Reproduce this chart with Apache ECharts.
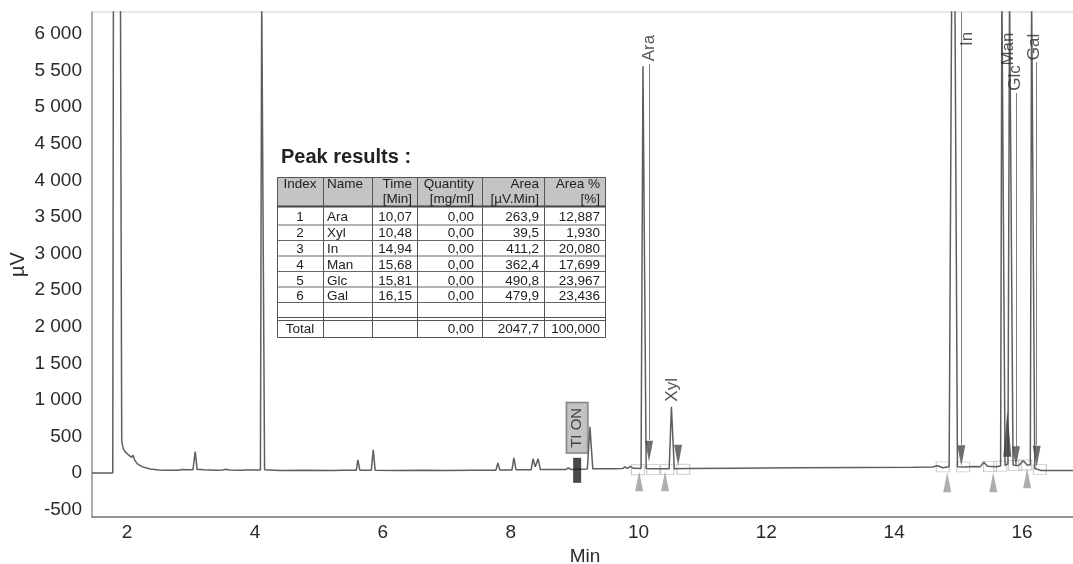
<!DOCTYPE html>
<html><head><meta charset="utf-8">
<script src="https://cdn.jsdelivr.net/npm/echarts@6/dist/echarts.min.js"></script>
<style>html,body{margin:0;padding:0;background:#fff}#c{width:1073px;height:564px}</style>
</head><body><div id="c"></div>
<script>
// ---------- data ----------
// trace: [time (min), signal (µV)]
const trace = [
 [1.45,0],[1.775,0],[1.785,6600],[1.895,6600],[1.915,430],[1.94,330],[1.97,290],[2.02,250],[2.07,215],[2.095,245],
 [2.115,180],[2.16,125],[2.24,85],[2.36,55],[2.5,42],[2.6,40],[2.63,52],[2.67,40],[2.8,38],[2.87,50],[2.95,44],
 [3.03,46],[3.065,295],[3.095,48],[3.15,50],[3.17,72],[3.2,45],[3.4,40],[3.5,42],[3.54,52],[3.6,42],[3.78,40],
 [3.8,52],[3.84,42],[4.085,42],[4.105,6600],[4.13,6600],[4.15,45],[4.4,36],[4.8,38],[5.2,36],[5.4,40],[5.585,38],
 [5.61,181],[5.64,40],[5.82,40],[5.85,318],[5.88,40],[6.2,36],[6.6,38],[7.0,36],[7.4,38],[7.77,40],[7.80,140],
 [7.83,42],[8.02,42],[8.05,208],[8.085,45],[8.32,45],[8.35,195],[8.385,85],[8.43,195],[8.465,48],[8.86,48],
 [8.9,72],[8.94,50],[9.2,55],[9.24,632],[9.285,58],[9.6,58],[9.75,62],[9.79,85],[9.83,62],[9.87,92],[9.92,65],
 [10.04,62],[10.07,5560],[10.12,62],[10.2,58],[10.48,58],[10.515,905],[10.56,58],[10.8,62],[11.5,66],[12.5,72],
 [13.5,76],[14.3,80],[14.6,84],[14.68,100],[14.76,72],[14.86,86],[14.9,6600],[14.95,6600],[14.99,88],[15.1,82],
 [15.25,90],[15.35,88],[15.4,150],[15.46,92],[15.6,88],[15.665,96],[15.685,6600],[15.71,6600],[15.735,105],
 [15.78,125],[15.805,6600],[15.835,6600],[15.86,112],[15.95,102],[16.02,170],[16.08,112],[16.13,112],
 [16.15,6600],[16.175,6600],[16.2,62],[16.3,36],[16.9,34]
];
// peak name labels: [name, time, µV]
const peakLabels = [['Ara',10.165,5808],['Xyl',10.525,1137],['In',15.14,5931],['Man',15.78,5794],['Glc',15.89,5398],['Gal',16.20,5821]];
// integration markers
const peakEndArrows = [[10.165,297],[10.62,243],[15.05,236],[15.905,222],[16.23,229]];
const peakApexMark = [[15.77,536]];
const peakStartMarks = [[10.01,-112],[10.415,-112],[14.83,-126],[15.55,-126],[16.08,-71]];
const baselineBoxes = [[9.99,45],[10.23,48],[10.45,48],[10.70,52],[14.76,85],[15.08,85],[15.50,88],[15.66,95],[15.89,105],[16.05,110],[16.28,50]];
const markerStems = [[10.165,454,5590],[15.05,386,6300],[15.905,359,5193],[16.23,386,5617]];
const timedEvent = [['TI ON',9.04,618]];
const eventBar = [[9.04,38]];
// axis ticks
const yTickStep = 500;
const xTickStep = 2;
// table
const tableHead1 = ['Index','Name','Time','Quantity','Area','Area %'];
const tableHead2 = ['','','[Min]','[mg/ml]','[µV.Min]','[%]'];
const tableRows = [
 ['1','Ara','10,07','0,00','263,9','12,887'],
 ['2','Xyl','10,48','0,00','39,5','1,930'],
 ['3','In','14,94','0,00','411,2','20,080'],
 ['4','Man','15,68','0,00','362,4','17,699'],
 ['5','Glc','15,81','0,00','490,8','23,967'],
 ['6','Gal','16,15','0,00','479,9','23,436'],
 ['','','','','','']
];
const tableTotal = ['Total','','','0,00','2047,7','100,000'];
const tableTitle = 'Peak results :';

// ---------- layout ----------
const FONT = '"Liberation Sans", Arial, sans-serif';
const colX = [277, 323, 372, 417, 482, 544, 605];
const colAlign = ['center','left','right','right','right','right'];
const rowLines = [225, 240.5, 256, 271.5, 287, 302.5];
const rowCenters = [217, 233, 249, 265, 281, 296, 310];
const G = [];
const tTop = 177, tBot = 337, hBot = 206;
G.push({type:'text', x:281, y:157, z:100, style:{text:tableTitle, font:'bold 20px '+FONT, fill:'#222', textAlign:'left', textVerticalAlign:'middle'}});
G.push({type:'rect', z:90, shape:{x:colX[0]+0.5,y:tTop+0.5,width:colX[6]-colX[0],height:tBot-tTop}, style:{fill:'#fff', stroke:'#555', lineWidth:1}});
G.push({type:'rect', z:91, shape:{x:colX[0]+0.5,y:tTop+0.5,width:colX[6]-colX[0],height:hBot-tTop}, style:{fill:'#c4c4c4', stroke:'#555', lineWidth:1}});
G.push({type:'line', z:92, shape:{x1:colX[0],y1:hBot+0.5,x2:colX[6],y2:hBot+0.5}, style:{stroke:'#444', lineWidth:2}});
for (let i=1;i<colX.length-1;i++) G.push({type:'line', z:92, shape:{x1:colX[i]+0.5,y1:tTop,x2:colX[i]+0.5,y2:tBot}, style:{stroke:'#555', lineWidth:1}});
rowLines.forEach(y=>G.push({type:'line', z:92, shape:{x1:colX[0],y1:y,x2:colX[6],y2:y}, style:{stroke:'#666', lineWidth:1}}));
G.push({type:'line', z:92, shape:{x1:colX[0],y1:317.5,x2:colX[6],y2:317.5}, style:{stroke:'#555', lineWidth:1}});
G.push({type:'line', z:92, shape:{x1:colX[0],y1:320.5,x2:colX[6],y2:320.5}, style:{stroke:'#555', lineWidth:1}});
function cellX(c){ const a=colAlign[c]; if(a==='center') return (colX[c]+colX[c+1])/2; if(a==='left') return colX[c]+4; return colX[c+1]-(c===3?8:5); }
function addText(txt,c,y){ if(!txt) return; G.push({type:'text', z:95, x:cellX(c), y:y, style:{text:txt, font:'13.5px '+FONT, fill:'#222', textAlign:colAlign[c], textVerticalAlign:'middle'}}); }
tableHead1.forEach((t,c)=>addText(t,c,184));
tableHead2.forEach((t,c)=>addText(t,c,199));
tableRows.forEach((r,i)=>r.forEach((t,c)=>addText(t,c,rowCenters[i])));
tableTotal.forEach((t,c)=>addText(t,c,329));

function fmtY(v){ if (Math.abs(v % yTickStep) > 1e-6) return ''; const s=Math.abs(v).toString(); const g = s.length>3 ? s.slice(0,s.length-3)+' '+s.slice(-3) : s; return (v<0?'-':'')+g; }
function fmtX(v){ const r=Math.round(v); if (Math.abs(v-r)<1e-6 && r % xTickStep===0) return String(r); return ''; }

const chart = echarts.init(document.getElementById('c'), null, {renderer:'canvas'});
chart.setOption({
  animation:false,
  backgroundColor:'#fff',
  grid:{left:92, right:-5, top:12, bottom:47, show:true, borderColor:'#d4d4d4', borderWidth:1, containLabel:false, outerBoundsMode:'none'},
  xAxis:{type:'value', min:1.45, max:16.876, interval:0.05,
    axisLine:{show:true, onZero:false, lineStyle:{color:'#777', width:1.5}},
    axisTick:{show:false}, splitLine:{show:false},
    axisLabel:{formatter:fmtX, fontSize:19, color:'#2a2a2a', fontFamily:FONT, margin:6, showMinLabel:true, showMaxLabel:true},
    name:'Min', nameLocation:'middle', nameGap:30, nameMoveOverlap:false, nameTextStyle:{fontSize:19, color:'#2a2a2a', fontFamily:FONT}},
  yAxis:{type:'value', min:-600, max:6300, interval:100,
    axisLine:{show:true, lineStyle:{color:'#999', width:1.5}},
    axisTick:{show:false}, splitLine:{show:false},
    axisLabel:{formatter:fmtY, fontSize:19, color:'#2a2a2a', fontFamily:FONT, margin:10},
    name:'µV', nameLocation:'middle', nameGap:64, nameMoveOverlap:false, nameRotate:90, nameTextStyle:{fontSize:20, color:'#2a2a2a', fontFamily:FONT}},
  graphic:{elements:G},
  series:[
    {type:'scatter', data:baselineBoxes, symbol:'rect', symbolSize:[13,10], z:1, silent:true,
      itemStyle:{color:'rgba(0,0,0,0)', borderColor:'#bdbdbd', borderWidth:1}},
    {type:'line', data:trace, showSymbol:false, symbol:'none', clip:true, z:3, silent:true,
      lineStyle:{color:'#5e5e5e', width:1.5}},
    {type:'lines', coordinateSystem:'cartesian2d', z:2, silent:true,
      data:markerStems.map(s=>({coords:[[s[0],s[1]],[s[0],s[2]]]})),
      lineStyle:{color:'#808080', width:1, opacity:1}},
    {type:'scatter', data:peakEndArrows, symbol:'triangle', symbolRotate:180, symbolSize:[8,21], z:4, silent:true,
      itemStyle:{color:'#4a4a4a'}},
    {type:'scatter', data:peakApexMark, symbol:'triangle', symbolSize:[8,46], z:4, silent:true,
      itemStyle:{color:'#3a3a3a'}},
    {type:'scatter', data:peakStartMarks, symbol:'triangle', symbolSize:[8,20], z:4, silent:true,
      itemStyle:{color:'#9a9a9a'}},
    {type:'scatter', data:eventBar, symbol:'rect', symbolSize:[8,25], z:4, silent:true,
      itemStyle:{color:'#1a1a1a'}},
    {type:'scatter', z:5, silent:true, symbolSize:1, itemStyle:{color:'rgba(0,0,0,0)'},
      data:peakLabels.map(p=>({name:p[0], value:[p[1],p[2]]})),
      label:{show:true, formatter:'{b}', rotate:90, position:'inside', align:'center', verticalAlign:'middle',
        fontSize:17, color:'#2a2a2a', fontFamily:FONT}},
    {type:'scatter', z:5, silent:true, symbolSize:1, itemStyle:{color:'rgba(0,0,0,0)'},
      data:timedEvent.map(p=>({name:p[0], value:[p[1],p[2]]})),
      label:{show:true, formatter:'{b}', rotate:90, position:'inside', align:'center', verticalAlign:'middle',
        fontSize:15, color:'#222', fontFamily:FONT, backgroundColor:'#b4b4b4', borderColor:'#555', borderWidth:1, padding:[3,5]}}
  ]
});
</script>
</body></html>
